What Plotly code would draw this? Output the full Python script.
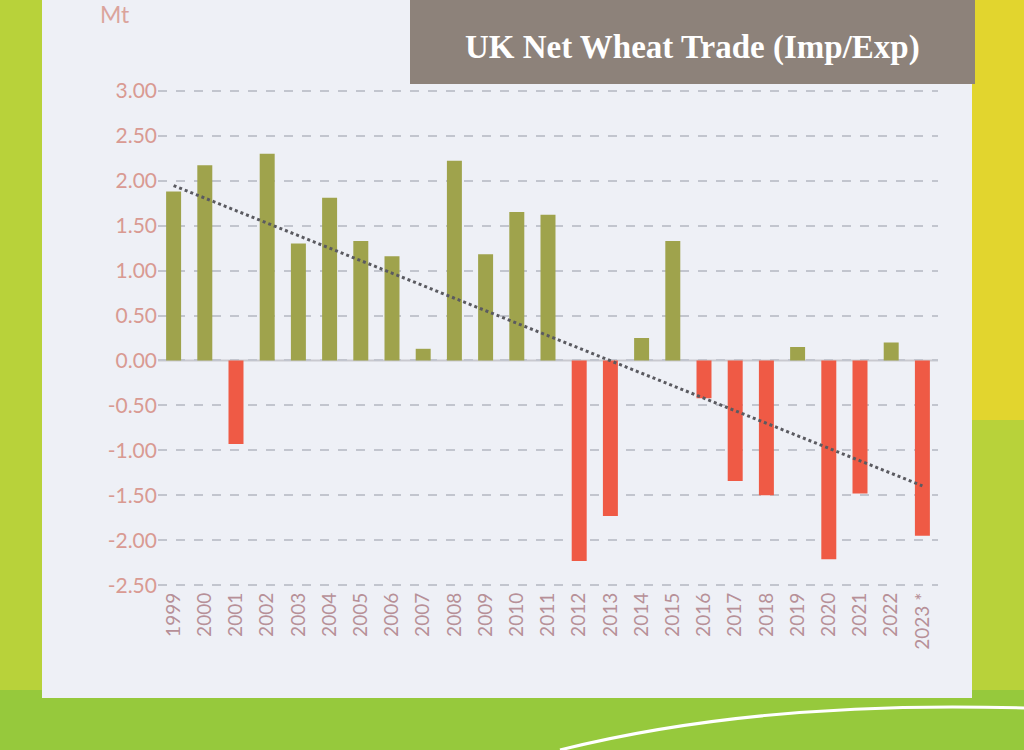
import numpy as np
import plotly.graph_objects as go

# ---- data (Mt, + = net export, - = net import) ----
years = ["1999", "2000", "2001", "2002", "2003", "2004", "2005", "2006", "2007",
         "2008", "2009", "2010", "2011", "2012", "2013", "2014", "2015", "2016",
         "2017", "2018", "2019", "2020", "2021", "2022", "2023 *"]
net_trade = [1.88, 2.17, -0.93, 2.30, 1.30, 1.81, 1.33, 1.16, 0.13,
             2.22, 1.18, 1.65, 1.62, -2.23, -1.73, 0.25, 1.33, -0.42,
             -1.34, -1.50, 0.15, -2.21, -1.48, 0.20, -1.95]
y_ticks = [3.0, 2.5, 2.0, 1.5, 1.0, 0.5, 0.0, -0.5, -1.0, -1.5, -2.0, -2.5]
y_tick_labels = ["3.00", "2.50", "2.00", "1.50", "1.00", "0.50", "0.00",
                 "-0.50", "-1.00", "-1.50", "-2.00", "-2.50"]
title_text = "UK Net Wheat Trade (Imp/Exp)"
unit_text = "Mt"

GREEN = "#9fa34c"
RED = "#ef5a45"
PANEL = "#eef0f6"

W, H = 1024, 750
L, R, T, B = 158, 86, 88, 162
PW, PH = W - L - R, H - T - B


def px(x):
    return (x - L) / PW


def py(y):
    return (H - B - y) / PH


colors = [GREEN if v >= 0 else RED for v in net_trade]

# linear trend line (as the Excel linear trendline of the series)
idx = np.arange(len(net_trade))
slope, intercept = np.polyfit(idx, net_trade, 1)
trend = slope * idx + intercept

fig = go.Figure()
fig.add_trace(go.Bar(x=years, y=net_trade, marker=dict(color=colors, line=dict(width=0)),
                     width=0.48, showlegend=False, hoverinfo="x+y"))
fig.add_trace(go.Scatter(x=years, y=trend, mode="lines",
                         line=dict(color="#5a5a60", width=3, dash="dot"),
                         showlegend=False, hoverinfo="skip"))

shapes = [
    # outer photo background strips
    dict(type="rect", xref="paper", yref="paper", x0=px(960), x1=px(W), y0=py(0), y1=py(420),
         fillcolor="#e2d52e", line=dict(width=0), layer="below"),
    dict(type="rect", xref="paper", yref="paper", x0=px(0), x1=px(W), y0=py(690), y1=py(H),
         fillcolor="#96c93c", line=dict(width=0), layer="below"),
    # slide panel
    dict(type="rect", xref="paper", yref="paper", x0=px(42), x1=px(972), y0=py(0), y1=py(698),
         fillcolor=PANEL, line=dict(width=0), layer="below"),
    # title box
    dict(type="rect", xref="paper", yref="paper", x0=px(410), x1=px(975), y0=py(0), y1=py(84),
         fillcolor="#8d827a", line=dict(width=0), layer="below"),
    # white swoosh at bottom
    dict(type="path", xref="paper", yref="paper",
         path=f"M {px(560)},{py(750)} Q {px(760)},{py(700)} {px(1024)},{py(708)}",
         line=dict(color="white", width=3)),
    # zero line
    dict(type="line", xref="paper", yref="y", x0=0, x1=1, y0=0, y1=0,
         line=dict(color="#c9c9cf", width=2), layer="below"),
]

annotations = [
    dict(text=f"<b>{title_text}</b>", xref="paper", yref="paper", x=px(692), y=py(48),
         xanchor="center", yanchor="middle",
         showarrow=False, font=dict(family="Liberation Serif", size=33, color="white")),
    dict(text=unit_text, xref="paper", yref="paper", x=px(115), y=py(14),
         xanchor="center", yanchor="middle",
         showarrow=False, font=dict(family="Lato", size=23, color="#dba49c")),
]

fig.update_layout(
    width=W, height=H,
    margin=dict(l=L, r=R, t=T, b=B),
    paper_bgcolor="#b8d23a",
    plot_bgcolor=PANEL,
    shapes=shapes,
    annotations=annotations,
    bargap=0.5,
    xaxis=dict(type="category", tickangle=-90, showgrid=False, zeroline=False,
               showline=False, ticks="",
               tickfont=dict(family="Lato", size=19, color="#b79098")),
    yaxis=dict(range=[-2.53, 3.03], tickvals=y_ticks, ticktext=y_tick_labels,
               showgrid=True, gridcolor="#c2c5ce", griddash="dash", gridwidth=1.5,
               zeroline=False, showline=False, ticks="",
               tickfont=dict(family="Lato", size=21, color="#d99a92")),
)

fig.write_html("out.html", config={"displayModeBar": False},
               post_script="document.body.style.margin='0px';document.body.style.overflow='hidden';")
